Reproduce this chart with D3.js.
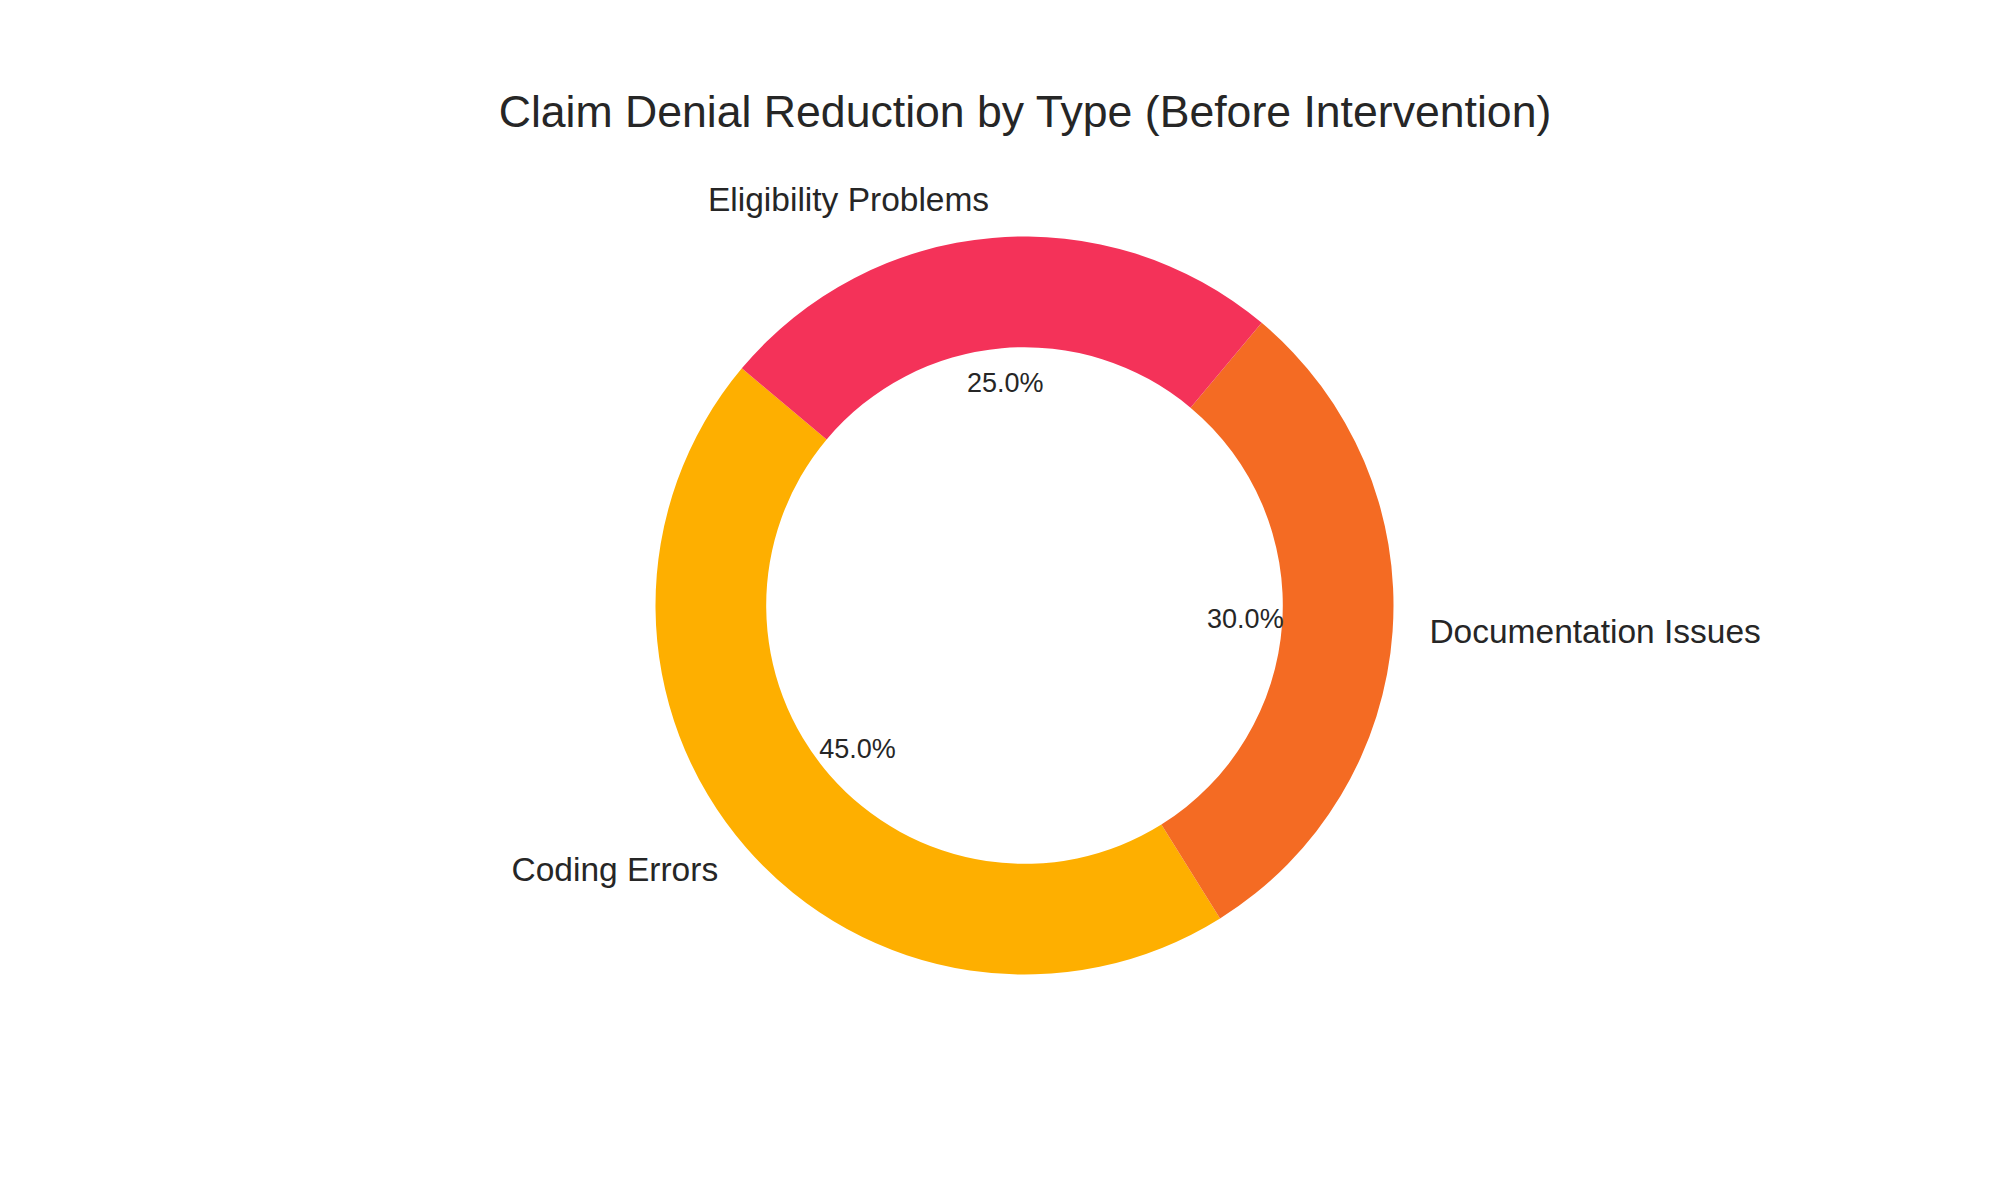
<!DOCTYPE html>
<html>
<head>
<meta charset="utf-8">
<script src="https://cdn.jsdelivr.net/npm/d3@7"></script>
<style>
  html, body { margin: 0; padding: 0; background: #ffffff; }
  svg { display: block; }
  text { font-family: "Liberation Sans", Arial, sans-serif; fill: #262626; }
</style>
</head>
<body>
<svg id="chart" width="2000" height="1200"></svg>
<script>
const categories = ["Coding Errors", "Documentation Issues", "Eligibility Problems"];
const values = [45, 30, 25];
const colors = ["#FEAF00", "#F46B23", "#F43259"];
const title = "Claim Denial Reduction by Type (Before Intervention)";

const W = 2000, H = 1200;
const cx = 1024.5, cy = 605.5;
const R = 369;
const innerR = R * 0.7;
const startDeg = 140; // matplotlib-style start angle, counter-clockwise

const svg = d3.select("#chart");
svg.append("rect").attr("width", W).attr("height", H).attr("fill", "#fff");

svg.append("text")
  .attr("x", 1025).attr("y", 127)
  .attr("text-anchor", "middle")
  .style("font-size", "44.6px")
  .text(title);

const data = categories.map((c, i) => ({ cat: c, value: values[i], color: colors[i] }));
const a0 = (90 - startDeg) * Math.PI / 180;
const pie = d3.pie().sort(null).value(d => d.value)
  .startAngle(a0).endAngle(a0 - 2 * Math.PI);
const arcs = pie(data);
const arc = d3.arc().innerRadius(innerR).outerRadius(R);

const g = svg.append("g").attr("transform", `translate(${cx},${cy})`);
g.selectAll("path.slice").data(arcs).join("path")
  .attr("class", "slice")
  .attr("d", arc)
  .attr("fill", d => d.data.color);

const total = d3.sum(values);
const pos = (d, r) => {
  const m = (d.startAngle + d.endAngle) / 2;
  return [r * Math.sin(m), -r * Math.cos(m)];
};

g.selectAll("text.label").data(arcs).join("text")
  .attr("class", "label")
  .each(function(d) {
    const [x, y] = pos(d, R * 1.1);
    d3.select(this)
      .attr("x", x).attr("y", y + 9.5)
      .attr("text-anchor", x < 0 ? "end" : "start");
  })
  .style("font-size", "33.5px")
  .text(d => d.data.cat);

g.selectAll("text.pct").data(arcs).join("text")
  .attr("class", "pct")
  .each(function(d) {
    const [x, y] = pos(d, R * 0.6);
    d3.select(this).attr("x", x).attr("y", y + 7.5).attr("text-anchor", "middle");
  })
  .style("font-size", "27px")
  .text(d => (d.data.value / total * 100).toFixed(1) + "%");
</script>
</body>
</html>
